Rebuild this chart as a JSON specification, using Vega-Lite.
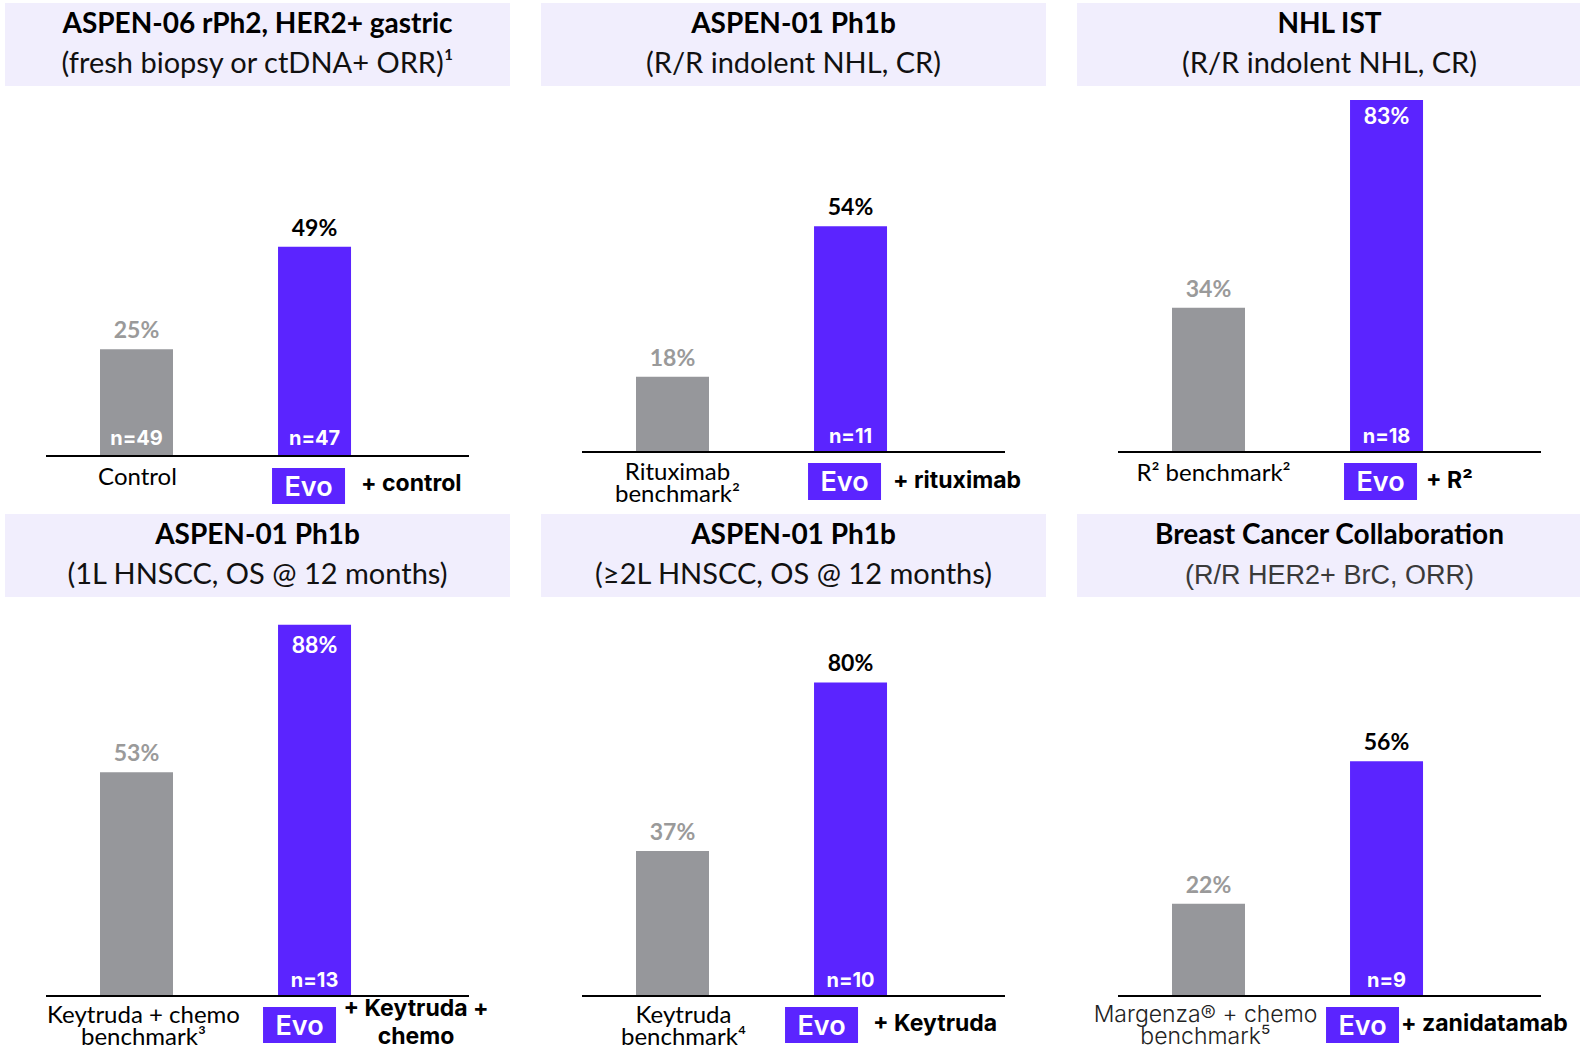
{
  "$schema": "https://vega.github.io/schema/vega-lite/v6.json",
  "padding": {"left": 5, "top": 3, "right": 0, "bottom": 0},
  "config": {"view": {"stroke": null}, "background": "white"},
  "datasets": {
    "panels": [
      {"panel": "p1", "title": "ASPEN-06 rPh2, HER2+ gastric", "subtitle": "(fresh biopsy or ctDNA+ ORR)¹"},
      {"panel": "p2", "title": "ASPEN-01 Ph1b", "subtitle": "(R/R indolent NHL, CR)"},
      {"panel": "p3", "title": "NHL IST", "subtitle": "(R/R indolent NHL, CR)"},
      {"panel": "p4", "title": "ASPEN-01 Ph1b", "subtitle": "(1L HNSCC, OS @ 12 months)"},
      {"panel": "p5", "title": "ASPEN-01 Ph1b", "subtitle": "(≥2L HNSCC, OS @ 12 months)"},
      {"panel": "p6", "title": "Breast Cancer Collaboration", "subtitle": "(R/R HER2+ BrC, ORR)"}
    ],
    "bars": [
      {"panel": "p1", "group": "bench", "value": 25, "pct": "25%", "n": "n=49", "label": ["Control"]},
      {"panel": "p1", "group": "evo", "value": 49, "pct": "49%", "n": "n=47", "label": ["Evo"], "suffix": ["+ control"]},
      {"panel": "p2", "group": "bench", "value": 18, "pct": "18%", "n": "", "label": ["Rituximab", "benchmark²"]},
      {"panel": "p2", "group": "evo", "value": 54, "pct": "54%", "n": "n=11", "label": ["Evo"], "suffix": ["+ rituximab"]},
      {"panel": "p3", "group": "bench", "value": 34, "pct": "34%", "n": "", "label": ["R² benchmark²"]},
      {"panel": "p3", "group": "evo", "value": 83, "pct": "83%", "n": "n=18", "label": ["Evo"], "suffix": ["+ R²"]},
      {"panel": "p4", "group": "bench", "value": 53, "pct": "53%", "n": "", "label": ["Keytruda + chemo", "benchmark³"]},
      {"panel": "p4", "group": "evo", "value": 88, "pct": "88%", "n": "n=13", "label": ["Evo"], "suffix": ["+ Keytruda +", "chemo"]},
      {"panel": "p5", "group": "bench", "value": 37, "pct": "37%", "n": "", "label": ["Keytruda", "benchmark⁴"]},
      {"panel": "p5", "group": "evo", "value": 80, "pct": "80%", "n": "n=10", "label": ["Evo"], "suffix": ["+ Keytruda"]},
      {"panel": "p6", "group": "bench", "value": 22, "pct": "22%", "n": "", "label": ["Margenza® + chemo", "benchmark⁵"]},
      {"panel": "p6", "group": "evo", "value": 56, "pct": "56%", "n": "n=9", "label": ["Evo"], "suffix": ["+ zanidatamab"]}
    ]
  },
  "vconcat": [
    {
      "hconcat": [
        {
          "vconcat": [
            {
              "width": 505, "height": 83,
              "view": {"fill": "#f1eefd", "stroke": null},
              "data": {"name": "panels"},
              "transform": [{"filter": "datum.panel === 'p1'"}],
              "layer": [
                {"mark": {"type": "text", "font": "Lato", "fontWeight": "bold", "fontSize": 28, "baseline": "alphabetic", "dy": -12, "color": "#000"}, "encoding": {"text": {"field": "title"}}},
                {"mark": {"type": "text", "font": "Lato", "fontSize": 29, "baseline": "alphabetic", "dy": 28, "color": "#111"}, "encoding": {"text": {"field": "subtitle"}}}
              ]
            },
            {
              "width": 423, "height": 414,
              "data": {"name": "bars"},
              "transform": [{"filter": "datum.panel === 'p1'"}],
              "layer": [
                {"mark": {"type": "bar"}, "encoding": {
                  "x": {"field": "group", "type": "nominal", "axis": null, "scale": {"type": "band", "domain": ["bench", "evo"], "paddingInner": 0.59, "paddingOuter": 0.483, "align": 0.314}},
                  "y": {"field": "value", "type": "quantitative", "axis": null, "scale": {"domain": [-12.65, 84.31]}},
                  "color": {"field": "group", "type": "nominal", "legend": null, "scale": {"domain": ["bench", "evo"], "range": ["#96979b", "#5b24ff"]}}}},
                {"mark": {"type": "rule", "color": "#000", "strokeWidth": 2}, "encoding": {"y": {"datum": 0, "type": "quantitative", "axis": null, "scale": {"domain": [-12.65, 84.31]}}}},
                {"transform": [{"filter": "datum.value < 82"}], "mark": {"type": "text", "font": "Lato", "fontWeight": "bold", "fontSize": 23, "baseline": "alphabetic", "dy": -11}, "encoding": {
                  "x": {"field": "group", "type": "nominal", "axis": null, "scale": {"type": "band", "domain": ["bench", "evo"], "paddingInner": 0.59, "paddingOuter": 0.483, "align": 0.314}},
                  "y": {"field": "value", "type": "quantitative", "axis": null, "scale": {"domain": [-12.65, 84.31]}},
                  "text": {"field": "pct"},
                  "color": {"condition": {"test": "datum.group === 'bench'", "value": "#9a9a9a"}, "value": "#000000"}}},
                {"transform": [{"filter": "datum.n !== ''"}], "mark": {"type": "text", "font": "Inter", "fontWeight": "bold", "fontSize": 20, "baseline": "alphabetic", "dy": -11, "color": "white"}, "encoding": {
                  "x": {"field": "group", "type": "nominal", "axis": null, "scale": {"type": "band", "domain": ["bench", "evo"], "paddingInner": 0.59, "paddingOuter": 0.483, "align": 0.314}},
                  "y": {"datum": 0, "type": "quantitative", "axis": null, "scale": {"domain": [-12.65, 84.31]}},
                  "text": {"field": "n"}}},
                {"transform": [{"filter": "datum.group === 'bench'"}], "mark": {"type": "text", "font": "Lato", "fontSize": 24, "baseline": "top", "dy": 10, "dx": 1, "lineHeight": 22, "color": "#000"}, "encoding": {
                  "x": {"field": "group", "type": "nominal", "axis": null, "scale": {"type": "band", "domain": ["bench", "evo"], "paddingInner": 0.59, "paddingOuter": 0.483, "align": 0.314}},
                  "y": {"datum": 0, "type": "quantitative", "axis": null, "scale": {"domain": [-12.65, 84.31]}},
                  "text": {"field": "label"}}},
                {"transform": [{"filter": "datum.group === 'evo'"}], "mark": {"type": "bar", "color": "#5b24ff", "xOffset": -6, "yOffset": 12, "y2Offset": 48}, "encoding": {
                  "x": {"field": "group", "type": "nominal", "axis": null, "scale": {"type": "band", "domain": ["bench", "evo"], "paddingInner": 0.59, "paddingOuter": 0.483, "align": 0.314}},
                  "y": {"datum": 0, "type": "quantitative", "axis": null, "scale": {"domain": [-12.65, 84.31]}},
                  "y2": {"datum": 0}}},
                {"transform": [{"filter": "datum.group === 'evo'"}], "mark": {"type": "text", "font": "Inter", "fontWeight": 600, "fontSize": 27, "baseline": "alphabetic", "dy": 40, "dx": -6, "color": "white"}, "encoding": {
                  "x": {"field": "group", "type": "nominal", "axis": null, "scale": {"type": "band", "domain": ["bench", "evo"], "paddingInner": 0.59, "paddingOuter": 0.483, "align": 0.314}},
                  "y": {"datum": 0, "type": "quantitative", "axis": null, "scale": {"domain": [-12.65, 84.31]}},
                  "text": {"field": "label"}}},
                {"transform": [{"filter": "datum.group === 'evo'"}], "mark": {"type": "text", "font": "Inter", "fontWeight": "bold", "fontSize": 23, "baseline": "middle", "align": "left", "dy": 28, "dx": 10, "color": "#000"}, "encoding": {
                  "x": {"field": "group", "type": "nominal", "bandPosition": 1, "axis": null, "scale": {"type": "band", "domain": ["bench", "evo"], "paddingInner": 0.59, "paddingOuter": 0.483, "align": 0.314}},
                  "y": {"datum": 0, "type": "quantitative", "axis": null, "scale": {"domain": [-12.65, 84.31]}},
                  "text": {"field": "suffix"}}}
              ]
            }
          ],
          "spacing": 10, "center": true, "bounds": "flush"
        },
        {
          "vconcat": [
            {
              "width": 505, "height": 83,
              "view": {"fill": "#f1eefd", "stroke": null},
              "data": {"name": "panels"},
              "transform": [{"filter": "datum.panel === 'p2'"}],
              "layer": [
                {"mark": {"type": "text", "font": "Lato", "fontWeight": "bold", "fontSize": 28, "baseline": "alphabetic", "dy": -12, "color": "#000"}, "encoding": {"text": {"field": "title"}}},
                {"mark": {"type": "text", "font": "Lato", "fontSize": 29, "baseline": "alphabetic", "dy": 28, "color": "#111"}, "encoding": {"text": {"field": "subtitle"}}}
              ]
            },
            {
              "width": 423, "height": 414,
              "data": {"name": "bars"},
              "transform": [{"filter": "datum.panel === 'p2'"}],
              "layer": [
                {"mark": {"type": "bar"}, "encoding": {
                  "x": {"field": "group", "type": "nominal", "axis": null, "scale": {"type": "band", "domain": ["bench", "evo"], "paddingInner": 0.59, "paddingOuter": 0.483, "align": 0.314}},
                  "y": {"field": "value", "type": "quantitative", "axis": null, "scale": {"domain": [-13.88, 85.17]}},
                  "color": {"field": "group", "type": "nominal", "legend": null, "scale": {"domain": ["bench", "evo"], "range": ["#96979b", "#5b24ff"]}}}},
                {"mark": {"type": "rule", "color": "#000", "strokeWidth": 2}, "encoding": {"y": {"datum": 0, "type": "quantitative", "axis": null, "scale": {"domain": [-13.88, 85.17]}}}},
                {"transform": [{"filter": "datum.value < 82"}], "mark": {"type": "text", "font": "Lato", "fontWeight": "bold", "fontSize": 23, "baseline": "alphabetic", "dy": -11}, "encoding": {
                  "x": {"field": "group", "type": "nominal", "axis": null, "scale": {"type": "band", "domain": ["bench", "evo"], "paddingInner": 0.59, "paddingOuter": 0.483, "align": 0.314}},
                  "y": {"field": "value", "type": "quantitative", "axis": null, "scale": {"domain": [-13.88, 85.17]}},
                  "text": {"field": "pct"},
                  "color": {"condition": {"test": "datum.group === 'bench'", "value": "#9a9a9a"}, "value": "#000000"}}},
                {"transform": [{"filter": "datum.n !== ''"}], "mark": {"type": "text", "font": "Inter", "fontWeight": "bold", "fontSize": 20, "baseline": "alphabetic", "dy": -9, "color": "white"}, "encoding": {
                  "x": {"field": "group", "type": "nominal", "axis": null, "scale": {"type": "band", "domain": ["bench", "evo"], "paddingInner": 0.59, "paddingOuter": 0.483, "align": 0.314}},
                  "y": {"datum": 0, "type": "quantitative", "axis": null, "scale": {"domain": [-13.88, 85.17]}},
                  "text": {"field": "n"}}},
                {"transform": [{"filter": "datum.group === 'bench'"}], "mark": {"type": "text", "font": "Lato", "fontSize": 24, "baseline": "top", "dy": 9, "dx": 5, "lineHeight": 22, "color": "#000"}, "encoding": {
                  "x": {"field": "group", "type": "nominal", "axis": null, "scale": {"type": "band", "domain": ["bench", "evo"], "paddingInner": 0.59, "paddingOuter": 0.483, "align": 0.314}},
                  "y": {"datum": 0, "type": "quantitative", "axis": null, "scale": {"domain": [-13.88, 85.17]}},
                  "text": {"field": "label"}}},
                {"transform": [{"filter": "datum.group === 'evo'"}], "mark": {"type": "bar", "color": "#5b24ff", "xOffset": -6, "yOffset": 11, "y2Offset": 48}, "encoding": {
                  "x": {"field": "group", "type": "nominal", "axis": null, "scale": {"type": "band", "domain": ["bench", "evo"], "paddingInner": 0.59, "paddingOuter": 0.483, "align": 0.314}},
                  "y": {"datum": 0, "type": "quantitative", "axis": null, "scale": {"domain": [-13.88, 85.17]}},
                  "y2": {"datum": 0}}},
                {"transform": [{"filter": "datum.group === 'evo'"}], "mark": {"type": "text", "font": "Inter", "fontWeight": 600, "fontSize": 27, "baseline": "alphabetic", "dy": 39, "dx": -6, "color": "white"}, "encoding": {
                  "x": {"field": "group", "type": "nominal", "axis": null, "scale": {"type": "band", "domain": ["bench", "evo"], "paddingInner": 0.59, "paddingOuter": 0.483, "align": 0.314}},
                  "y": {"datum": 0, "type": "quantitative", "axis": null, "scale": {"domain": [-13.88, 85.17]}},
                  "text": {"field": "label"}}},
                {"transform": [{"filter": "datum.group === 'evo'"}], "mark": {"type": "text", "font": "Inter", "fontWeight": "bold", "fontSize": 23, "baseline": "middle", "align": "left", "dy": 29, "dx": 6, "color": "#000"}, "encoding": {
                  "x": {"field": "group", "type": "nominal", "bandPosition": 1, "axis": null, "scale": {"type": "band", "domain": ["bench", "evo"], "paddingInner": 0.59, "paddingOuter": 0.483, "align": 0.314}},
                  "y": {"datum": 0, "type": "quantitative", "axis": null, "scale": {"domain": [-13.88, 85.17]}},
                  "text": {"field": "suffix"}}}
              ]
            }
          ],
          "spacing": 10, "center": true, "bounds": "flush"
        },
        {
          "vconcat": [
            {
              "width": 505, "height": 83,
              "view": {"fill": "#f1eefd", "stroke": null},
              "data": {"name": "panels"},
              "transform": [{"filter": "datum.panel === 'p3'"}],
              "layer": [
                {"mark": {"type": "text", "font": "Lato", "fontWeight": "bold", "fontSize": 28, "baseline": "alphabetic", "dy": -12, "color": "#000"}, "encoding": {"text": {"field": "title"}}},
                {"mark": {"type": "text", "font": "Lato", "fontSize": 29, "baseline": "alphabetic", "dy": 28, "color": "#111"}, "encoding": {"text": {"field": "subtitle"}}}
              ]
            },
            {
              "width": 423, "height": 414,
              "data": {"name": "bars"},
              "transform": [{"filter": "datum.panel === 'p3'"}],
              "layer": [
                {"mark": {"type": "bar"}, "encoding": {
                  "x": {"field": "group", "type": "nominal", "axis": null, "scale": {"type": "band", "domain": ["bench", "evo"], "paddingInner": 0.59, "paddingOuter": 0.483, "align": 0.314}},
                  "y": {"field": "value", "type": "quantitative", "axis": null, "scale": {"domain": [-13.68, 83.96]}},
                  "color": {"field": "group", "type": "nominal", "legend": null, "scale": {"domain": ["bench", "evo"], "range": ["#96979b", "#5b24ff"]}}}},
                {"mark": {"type": "rule", "color": "#000", "strokeWidth": 2}, "encoding": {"y": {"datum": 0, "type": "quantitative", "axis": null, "scale": {"domain": [-13.68, 83.96]}}}},
                {"transform": [{"filter": "datum.value < 82"}], "mark": {"type": "text", "font": "Lato", "fontWeight": "bold", "fontSize": 23, "baseline": "alphabetic", "dy": -11}, "encoding": {
                  "x": {"field": "group", "type": "nominal", "axis": null, "scale": {"type": "band", "domain": ["bench", "evo"], "paddingInner": 0.59, "paddingOuter": 0.483, "align": 0.314}},
                  "y": {"field": "value", "type": "quantitative", "axis": null, "scale": {"domain": [-13.68, 83.96]}},
                  "text": {"field": "pct"},
                  "color": {"condition": {"test": "datum.group === 'bench'", "value": "#9a9a9a"}, "value": "#000000"}}},
                {"transform": [{"filter": "datum.value >= 82"}], "mark": {"type": "text", "font": "Lato", "fontWeight": "bold", "fontSize": 23, "baseline": "alphabetic", "dy": 24, "color": "white"}, "encoding": {
                  "x": {"field": "group", "type": "nominal", "axis": null, "scale": {"type": "band", "domain": ["bench", "evo"], "paddingInner": 0.59, "paddingOuter": 0.483, "align": 0.314}},
                  "y": {"field": "value", "type": "quantitative", "axis": null, "scale": {"domain": [-13.68, 83.96]}},
                  "text": {"field": "pct"}}},
                {"transform": [{"filter": "datum.n !== ''"}], "mark": {"type": "text", "font": "Inter", "fontWeight": "bold", "fontSize": 20, "baseline": "alphabetic", "dy": -9, "color": "white"}, "encoding": {
                  "x": {"field": "group", "type": "nominal", "axis": null, "scale": {"type": "band", "domain": ["bench", "evo"], "paddingInner": 0.59, "paddingOuter": 0.483, "align": 0.314}},
                  "y": {"datum": 0, "type": "quantitative", "axis": null, "scale": {"domain": [-13.68, 83.96]}},
                  "text": {"field": "n"}}},
                {"transform": [{"filter": "datum.group === 'bench'"}], "mark": {"type": "text", "font": "Lato", "fontSize": 24, "baseline": "top", "dy": 10, "dx": 5, "lineHeight": 22, "color": "#000"}, "encoding": {
                  "x": {"field": "group", "type": "nominal", "axis": null, "scale": {"type": "band", "domain": ["bench", "evo"], "paddingInner": 0.59, "paddingOuter": 0.483, "align": 0.314}},
                  "y": {"datum": 0, "type": "quantitative", "axis": null, "scale": {"domain": [-13.68, 83.96]}},
                  "text": {"field": "label"}}},
                {"transform": [{"filter": "datum.group === 'evo'"}], "mark": {"type": "bar", "color": "#5b24ff", "xOffset": -6, "yOffset": 11, "y2Offset": 48}, "encoding": {
                  "x": {"field": "group", "type": "nominal", "axis": null, "scale": {"type": "band", "domain": ["bench", "evo"], "paddingInner": 0.59, "paddingOuter": 0.483, "align": 0.314}},
                  "y": {"datum": 0, "type": "quantitative", "axis": null, "scale": {"domain": [-13.68, 83.96]}},
                  "y2": {"datum": 0}}},
                {"transform": [{"filter": "datum.group === 'evo'"}], "mark": {"type": "text", "font": "Inter", "fontWeight": 600, "fontSize": 27, "baseline": "alphabetic", "dy": 39, "dx": -6, "color": "white"}, "encoding": {
                  "x": {"field": "group", "type": "nominal", "axis": null, "scale": {"type": "band", "domain": ["bench", "evo"], "paddingInner": 0.59, "paddingOuter": 0.483, "align": 0.314}},
                  "y": {"datum": 0, "type": "quantitative", "axis": null, "scale": {"domain": [-13.68, 83.96]}},
                  "text": {"field": "label"}}},
                {"transform": [{"filter": "datum.group === 'evo'"}], "mark": {"type": "text", "font": "Inter", "fontWeight": "bold", "fontSize": 23, "baseline": "middle", "align": "left", "dy": 29, "dx": 3, "color": "#000"}, "encoding": {
                  "x": {"field": "group", "type": "nominal", "bandPosition": 1, "axis": null, "scale": {"type": "band", "domain": ["bench", "evo"], "paddingInner": 0.59, "paddingOuter": 0.483, "align": 0.314}},
                  "y": {"datum": 0, "type": "quantitative", "axis": null, "scale": {"domain": [-13.68, 83.96]}},
                  "text": {"field": "suffix"}}}
              ]
            }
          ],
          "spacing": 10, "center": true, "bounds": "flush"
        }
      ],
      "spacing": 31
    },
    {
      "hconcat": [
        {
          "vconcat": [
            {
              "width": 505, "height": 83,
              "view": {"fill": "#f1eefd", "stroke": null},
              "data": {"name": "panels"},
              "transform": [{"filter": "datum.panel === 'p4'"}],
              "layer": [
                {"mark": {"type": "text", "font": "Lato", "fontWeight": "bold", "fontSize": 28, "baseline": "alphabetic", "dy": -12, "color": "#000"}, "encoding": {"text": {"field": "title"}}},
                {"mark": {"type": "text", "font": "Lato", "fontSize": 29, "baseline": "alphabetic", "dy": 28, "color": "#111"}, "encoding": {"text": {"field": "subtitle"}}}
              ]
            },
            {
              "width": 423, "height": 440,
              "data": {"name": "bars"},
              "transform": [{"filter": "datum.panel === 'p4'"}],
              "layer": [
                {"mark": {"type": "bar"}, "encoding": {
                  "x": {"field": "group", "type": "nominal", "axis": null, "scale": {"type": "band", "domain": ["bench", "evo"], "paddingInner": 0.59, "paddingOuter": 0.483, "align": 0.314}},
                  "y": {"field": "value", "type": "quantitative", "axis": null, "scale": {"domain": [-12.09, 92.18]}},
                  "color": {"field": "group", "type": "nominal", "legend": null, "scale": {"domain": ["bench", "evo"], "range": ["#96979b", "#5b24ff"]}}}},
                {"mark": {"type": "rule", "color": "#000", "strokeWidth": 2}, "encoding": {"y": {"datum": 0, "type": "quantitative", "axis": null, "scale": {"domain": [-12.09, 92.18]}}}},
                {"transform": [{"filter": "datum.value < 82"}], "mark": {"type": "text", "font": "Lato", "fontWeight": "bold", "fontSize": 23, "baseline": "alphabetic", "dy": -11}, "encoding": {
                  "x": {"field": "group", "type": "nominal", "axis": null, "scale": {"type": "band", "domain": ["bench", "evo"], "paddingInner": 0.59, "paddingOuter": 0.483, "align": 0.314}},
                  "y": {"field": "value", "type": "quantitative", "axis": null, "scale": {"domain": [-12.09, 92.18]}},
                  "text": {"field": "pct"},
                  "color": {"condition": {"test": "datum.group === 'bench'", "value": "#9a9a9a"}, "value": "#000000"}}},
                {"transform": [{"filter": "datum.value >= 82"}], "mark": {"type": "text", "font": "Lato", "fontWeight": "bold", "fontSize": 23, "baseline": "alphabetic", "dy": 28, "color": "white"}, "encoding": {
                  "x": {"field": "group", "type": "nominal", "axis": null, "scale": {"type": "band", "domain": ["bench", "evo"], "paddingInner": 0.59, "paddingOuter": 0.483, "align": 0.314}},
                  "y": {"field": "value", "type": "quantitative", "axis": null, "scale": {"domain": [-12.09, 92.18]}},
                  "text": {"field": "pct"}}},
                {"transform": [{"filter": "datum.n !== ''"}], "mark": {"type": "text", "font": "Inter", "fontWeight": "bold", "fontSize": 20, "baseline": "alphabetic", "dy": -9, "color": "white"}, "encoding": {
                  "x": {"field": "group", "type": "nominal", "axis": null, "scale": {"type": "band", "domain": ["bench", "evo"], "paddingInner": 0.59, "paddingOuter": 0.483, "align": 0.314}},
                  "y": {"datum": 0, "type": "quantitative", "axis": null, "scale": {"domain": [-12.09, 92.18]}},
                  "text": {"field": "n"}}},
                {"transform": [{"filter": "datum.group === 'bench'"}], "mark": {"type": "text", "font": "Lato", "fontSize": 24, "baseline": "top", "dy": 8, "dx": 7, "lineHeight": 22, "color": "#000"}, "encoding": {
                  "x": {"field": "group", "type": "nominal", "axis": null, "scale": {"type": "band", "domain": ["bench", "evo"], "paddingInner": 0.59, "paddingOuter": 0.483, "align": 0.314}},
                  "y": {"datum": 0, "type": "quantitative", "axis": null, "scale": {"domain": [-12.09, 92.18]}},
                  "text": {"field": "label"}}},
                {"transform": [{"filter": "datum.group === 'evo'"}], "mark": {"type": "bar", "color": "#5b24ff", "xOffset": -15, "yOffset": 11, "y2Offset": 47}, "encoding": {
                  "x": {"field": "group", "type": "nominal", "axis": null, "scale": {"type": "band", "domain": ["bench", "evo"], "paddingInner": 0.59, "paddingOuter": 0.483, "align": 0.314}},
                  "y": {"datum": 0, "type": "quantitative", "axis": null, "scale": {"domain": [-12.09, 92.18]}},
                  "y2": {"datum": 0}}},
                {"transform": [{"filter": "datum.group === 'evo'"}], "mark": {"type": "text", "font": "Inter", "fontWeight": 600, "fontSize": 27, "baseline": "alphabetic", "dy": 39, "dx": -15, "color": "white"}, "encoding": {
                  "x": {"field": "group", "type": "nominal", "axis": null, "scale": {"type": "band", "domain": ["bench", "evo"], "paddingInner": 0.59, "paddingOuter": 0.483, "align": 0.314}},
                  "y": {"datum": 0, "type": "quantitative", "axis": null, "scale": {"domain": [-12.09, 92.18]}},
                  "text": {"field": "label"}}},
                {"transform": [{"filter": "datum.group === 'evo'"}], "mark": {"type": "text", "font": "Inter", "fontWeight": "bold", "fontSize": 23, "baseline": "top", "align": "center", "dy": 2, "dx": 65, "lineHeight": 28, "color": "#000"}, "encoding": {
                  "x": {"field": "group", "type": "nominal", "bandPosition": 1, "axis": null, "scale": {"type": "band", "domain": ["bench", "evo"], "paddingInner": 0.59, "paddingOuter": 0.483, "align": 0.314}},
                  "y": {"datum": 0, "type": "quantitative", "axis": null, "scale": {"domain": [-12.09, 92.18]}},
                  "text": {"field": "suffix"}}}
              ]
            }
          ],
          "spacing": 10, "center": true, "bounds": "flush"
        },
        {
          "vconcat": [
            {
              "width": 505, "height": 83,
              "view": {"fill": "#f1eefd", "stroke": null},
              "data": {"name": "panels"},
              "transform": [{"filter": "datum.panel === 'p5'"}],
              "layer": [
                {"mark": {"type": "text", "font": "Lato", "fontWeight": "bold", "fontSize": 28, "baseline": "alphabetic", "dy": -12, "color": "#000"}, "encoding": {"text": {"field": "title"}}},
                {"mark": {"type": "text", "font": "Lato", "fontSize": 29, "baseline": "alphabetic", "dy": 28, "color": "#111"}, "encoding": {"text": {"field": "subtitle"}}}
              ]
            },
            {
              "width": 423, "height": 440,
              "data": {"name": "bars"},
              "transform": [{"filter": "datum.panel === 'p5'"}],
              "layer": [
                {"mark": {"type": "bar"}, "encoding": {
                  "x": {"field": "group", "type": "nominal", "axis": null, "scale": {"type": "band", "domain": ["bench", "evo"], "paddingInner": 0.59, "paddingOuter": 0.483, "align": 0.314}},
                  "y": {"field": "value", "type": "quantitative", "axis": null, "scale": {"domain": [-13.01, 99.23]}},
                  "color": {"field": "group", "type": "nominal", "legend": null, "scale": {"domain": ["bench", "evo"], "range": ["#96979b", "#5b24ff"]}}}},
                {"mark": {"type": "rule", "color": "#000", "strokeWidth": 2}, "encoding": {"y": {"datum": 0, "type": "quantitative", "axis": null, "scale": {"domain": [-13.01, 99.23]}}}},
                {"transform": [{"filter": "datum.value < 82"}], "mark": {"type": "text", "font": "Lato", "fontWeight": "bold", "fontSize": 23, "baseline": "alphabetic", "dy": -11}, "encoding": {
                  "x": {"field": "group", "type": "nominal", "axis": null, "scale": {"type": "band", "domain": ["bench", "evo"], "paddingInner": 0.59, "paddingOuter": 0.483, "align": 0.314}},
                  "y": {"field": "value", "type": "quantitative", "axis": null, "scale": {"domain": [-13.01, 99.23]}},
                  "text": {"field": "pct"},
                  "color": {"condition": {"test": "datum.group === 'bench'", "value": "#9a9a9a"}, "value": "#000000"}}},
                {"transform": [{"filter": "datum.n !== ''"}], "mark": {"type": "text", "font": "Inter", "fontWeight": "bold", "fontSize": 20, "baseline": "alphabetic", "dy": -9, "color": "white"}, "encoding": {
                  "x": {"field": "group", "type": "nominal", "axis": null, "scale": {"type": "band", "domain": ["bench", "evo"], "paddingInner": 0.59, "paddingOuter": 0.483, "align": 0.314}},
                  "y": {"datum": 0, "type": "quantitative", "axis": null, "scale": {"domain": [-13.01, 99.23]}},
                  "text": {"field": "n"}}},
                {"transform": [{"filter": "datum.group === 'bench'"}], "mark": {"type": "text", "font": "Lato", "fontSize": 24, "baseline": "top", "dy": 8, "dx": 11, "lineHeight": 22, "color": "#000"}, "encoding": {
                  "x": {"field": "group", "type": "nominal", "axis": null, "scale": {"type": "band", "domain": ["bench", "evo"], "paddingInner": 0.59, "paddingOuter": 0.483, "align": 0.314}},
                  "y": {"datum": 0, "type": "quantitative", "axis": null, "scale": {"domain": [-13.01, 99.23]}},
                  "text": {"field": "label"}}},
                {"transform": [{"filter": "datum.group === 'evo'"}], "mark": {"type": "bar", "color": "#5b24ff", "xOffset": -29, "yOffset": 11, "y2Offset": 47}, "encoding": {
                  "x": {"field": "group", "type": "nominal", "axis": null, "scale": {"type": "band", "domain": ["bench", "evo"], "paddingInner": 0.59, "paddingOuter": 0.483, "align": 0.314}},
                  "y": {"datum": 0, "type": "quantitative", "axis": null, "scale": {"domain": [-13.01, 99.23]}},
                  "y2": {"datum": 0}}},
                {"transform": [{"filter": "datum.group === 'evo'"}], "mark": {"type": "text", "font": "Inter", "fontWeight": 600, "fontSize": 27, "baseline": "alphabetic", "dy": 39, "dx": -29, "color": "white"}, "encoding": {
                  "x": {"field": "group", "type": "nominal", "axis": null, "scale": {"type": "band", "domain": ["bench", "evo"], "paddingInner": 0.59, "paddingOuter": 0.483, "align": 0.314}},
                  "y": {"datum": 0, "type": "quantitative", "axis": null, "scale": {"domain": [-13.01, 99.23]}},
                  "text": {"field": "label"}}},
                {"transform": [{"filter": "datum.group === 'evo'"}], "mark": {"type": "text", "font": "Inter", "fontWeight": "bold", "fontSize": 23, "baseline": "middle", "align": "left", "dy": 28, "dx": -14, "color": "#000"}, "encoding": {
                  "x": {"field": "group", "type": "nominal", "bandPosition": 1, "axis": null, "scale": {"type": "band", "domain": ["bench", "evo"], "paddingInner": 0.59, "paddingOuter": 0.483, "align": 0.314}},
                  "y": {"datum": 0, "type": "quantitative", "axis": null, "scale": {"domain": [-13.01, 99.23]}},
                  "text": {"field": "suffix"}}}
              ]
            }
          ],
          "spacing": 10, "center": true, "bounds": "flush"
        },
        {
          "vconcat": [
            {
              "width": 505, "height": 83,
              "view": {"fill": "#f1eefd", "stroke": null},
              "data": {"name": "panels"},
              "transform": [{"filter": "datum.panel === 'p6'"}],
              "layer": [
                {"mark": {"type": "text", "font": "Lato", "fontWeight": "bold", "fontSize": 28, "baseline": "alphabetic", "dy": -12, "color": "#000"}, "encoding": {"text": {"field": "title"}}},
                {"mark": {"type": "text", "font": "Liberation Sans", "fontSize": 27, "baseline": "alphabetic", "dy": 28, "color": "#3a3a3a"}, "encoding": {"text": {"field": "subtitle"}}}
              ]
            },
            {
              "width": 423, "height": 440,
              "data": {"name": "bars"},
              "transform": [{"filter": "datum.panel === 'p6'"}],
              "layer": [
                {"mark": {"type": "bar"}, "encoding": {
                  "x": {"field": "group", "type": "nominal", "axis": null, "scale": {"type": "band", "domain": ["bench", "evo"], "paddingInner": 0.59, "paddingOuter": 0.483, "align": 0.314}},
                  "y": {"field": "value", "type": "quantitative", "axis": null, "scale": {"domain": [-12.17, 92.84]}},
                  "color": {"field": "group", "type": "nominal", "legend": null, "scale": {"domain": ["bench", "evo"], "range": ["#96979b", "#5b24ff"]}}}},
                {"mark": {"type": "rule", "color": "#000", "strokeWidth": 2}, "encoding": {"y": {"datum": 0, "type": "quantitative", "axis": null, "scale": {"domain": [-12.17, 92.84]}}}},
                {"transform": [{"filter": "datum.value < 82"}], "mark": {"type": "text", "font": "Lato", "fontWeight": "bold", "fontSize": 23, "baseline": "alphabetic", "dy": -11}, "encoding": {
                  "x": {"field": "group", "type": "nominal", "axis": null, "scale": {"type": "band", "domain": ["bench", "evo"], "paddingInner": 0.59, "paddingOuter": 0.483, "align": 0.314}},
                  "y": {"field": "value", "type": "quantitative", "axis": null, "scale": {"domain": [-12.17, 92.84]}},
                  "text": {"field": "pct"},
                  "color": {"condition": {"test": "datum.group === 'bench'", "value": "#9a9a9a"}, "value": "#000000"}}},
                {"transform": [{"filter": "datum.n !== ''"}], "mark": {"type": "text", "font": "Inter", "fontWeight": "bold", "fontSize": 20, "baseline": "alphabetic", "dy": -9, "color": "white"}, "encoding": {
                  "x": {"field": "group", "type": "nominal", "axis": null, "scale": {"type": "band", "domain": ["bench", "evo"], "paddingInner": 0.59, "paddingOuter": 0.483, "align": 0.314}},
                  "y": {"datum": 0, "type": "quantitative", "axis": null, "scale": {"domain": [-12.17, 92.84]}},
                  "text": {"field": "n"}}},
                {"transform": [{"filter": "datum.group === 'bench'"}], "mark": {"type": "text", "font": "Inter", "fontSize": 23, "fontWeight": 300, "baseline": "top", "dy": 8, "dx": -3, "lineHeight": 22, "color": "#222"}, "encoding": {
                  "x": {"field": "group", "type": "nominal", "axis": null, "scale": {"type": "band", "domain": ["bench", "evo"], "paddingInner": 0.59, "paddingOuter": 0.483, "align": 0.314}},
                  "y": {"datum": 0, "type": "quantitative", "axis": null, "scale": {"domain": [-12.17, 92.84]}},
                  "text": {"field": "label"}}},
                {"transform": [{"filter": "datum.group === 'evo'"}], "mark": {"type": "bar", "color": "#5b24ff", "xOffset": -24, "yOffset": 11, "y2Offset": 47}, "encoding": {
                  "x": {"field": "group", "type": "nominal", "axis": null, "scale": {"type": "band", "domain": ["bench", "evo"], "paddingInner": 0.59, "paddingOuter": 0.483, "align": 0.314}},
                  "y": {"datum": 0, "type": "quantitative", "axis": null, "scale": {"domain": [-12.17, 92.84]}},
                  "y2": {"datum": 0}}},
                {"transform": [{"filter": "datum.group === 'evo'"}], "mark": {"type": "text", "font": "Inter", "fontWeight": 600, "fontSize": 27, "baseline": "alphabetic", "dy": 39, "dx": -24, "color": "white"}, "encoding": {
                  "x": {"field": "group", "type": "nominal", "axis": null, "scale": {"type": "band", "domain": ["bench", "evo"], "paddingInner": 0.59, "paddingOuter": 0.483, "align": 0.314}},
                  "y": {"datum": 0, "type": "quantitative", "axis": null, "scale": {"domain": [-12.17, 92.84]}},
                  "text": {"field": "label"}}},
                {"transform": [{"filter": "datum.group === 'evo'"}], "mark": {"type": "text", "font": "Inter", "fontWeight": "bold", "fontSize": 23, "baseline": "middle", "align": "left", "dy": 28, "dx": -22, "color": "#000"}, "encoding": {
                  "x": {"field": "group", "type": "nominal", "bandPosition": 1, "axis": null, "scale": {"type": "band", "domain": ["bench", "evo"], "paddingInner": 0.59, "paddingOuter": 0.483, "align": 0.314}},
                  "y": {"datum": 0, "type": "quantitative", "axis": null, "scale": {"domain": [-12.17, 92.84]}},
                  "text": {"field": "suffix"}}}
              ]
            }
          ],
          "spacing": 10, "center": true, "bounds": "flush"
        }
      ],
      "spacing": 31
    }
  ],
  "spacing": 4
}
